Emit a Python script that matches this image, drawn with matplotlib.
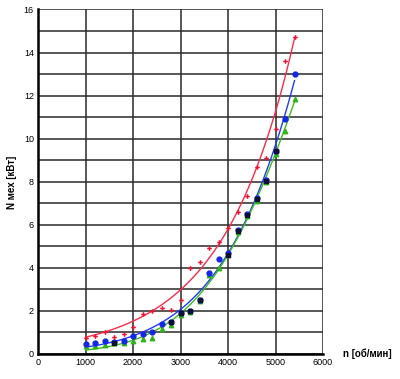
import numpy as np
import matplotlib
matplotlib.use("Agg")
import matplotlib.pyplot as plt

plt.rcParams['font.family'] = ['Liberation Sans', 'DejaVu Sans']

rpm = [1000, 1200, 1400, 1600, 1800, 2000, 2200, 2400, 2600, 2800, 3000, 3200,
       3400, 3600, 3800, 4000, 4200, 4400, 4600, 4800, 5000, 5200, 5400]
red_vals = [0.73, 0.85, 1.04, 0.81, 0.93, 1.26, 1.86, 2.0, 2.15, 2.05, 2.5, 4.0,
            4.29, 4.9, 5.18, 5.86, 6.6, 7.36, 8.7, 9.1, 10.47, 13.6, 14.7]
blue_vals = [0.47, 0.51, 0.59, 0.54, 0.59, 0.85, 0.93, 1.02, 1.38, 1.5, 1.9, 2.0,
             2.5, 3.78, 4.39, 4.68, 5.78, 6.48, 7.24, 8.1, 9.44, 10.93, 13.0]
green_vals = [0.35, 0.38, 0.42, 0.5, 0.5, 0.62, 0.68, 0.73, 1.15, 1.35, 1.8, 1.95,
              2.45, 3.65, 3.98, 4.6, 5.65, 6.4, 7.1, 8.0, 9.3, 10.34, 11.86]
black_rpm = [1600, 2800, 3000, 3200, 3400, 4000, 4200, 4400, 4600, 4800, 5000]
black_vals = [0.52, 1.47, 1.9, 2.0, 2.5, 4.6, 5.7, 6.45, 7.2, 8.05, 9.42]

x_ticks = [0, 1000, 2000, 3000, 4000, 5000, 6000]
y_ticks = [0, 2, 4, 6, 8, 10, 12, 14, 16]

fig = plt.figure(figsize=(4.0, 3.79), dpi=100)
ax = fig.add_axes([0.095, 0.066, 0.7125, 0.909])

ax.set_xlim(0, 6000)
ax.set_ylim(0, 16)
ax.set_xticks(x_ticks)
ax.set_yticks(y_ticks)
ax.set_yticks(np.arange(0, 17, 1), minor=True)
ax.grid(True, which='both', color='#2a2a2a', linewidth=1.1)
ax.tick_params(which='both', length=0, labelsize=6.5, pad=3)
for s in ['top', 'right']:
    ax.spines[s].set_visible(False)
ax.spines['left'].set_linewidth(1.8)
ax.spines['bottom'].set_linewidth(1.8)

x = np.array(rpm, dtype=float) / 1000.0
xs = np.linspace(1000, 5400, 200)
for vals, col in [(red_vals, '#ff2a4a'), (blue_vals, '#1f3cff'), (green_vals, '#3cbf1c')]:
    y = np.array(vals)
    c = np.polyfit(x, np.log(y), 2, w=y)
    ax.plot(xs, np.exp(np.polyval(c, xs / 1000.0)), color=col, lw=1.0, zorder=3)

ax.plot(rpm, green_vals, '^', color='#2fb51a', ms=3.2, zorder=4)
ax.plot(rpm, blue_vals, 'o', color='#1426e6', ms=3.5, zorder=5)
ax.plot(black_rpm, black_vals, 's', color='#101030', ms=3.2, zorder=6)
ax.plot(rpm, red_vals, 'P', color='#f01030', ms=3.3, mew=0, zorder=7)

fig.text(0.03, 0.52, 'N мех [кВт]', rotation=90, fontsize=7, fontweight='bold',
         ha='center', va='center')
fig.text(0.858, 0.066, 'n [об/мин]', fontsize=7, fontweight='bold',
         ha='left', va='center')

fig.savefig('out.png', dpi=100)
